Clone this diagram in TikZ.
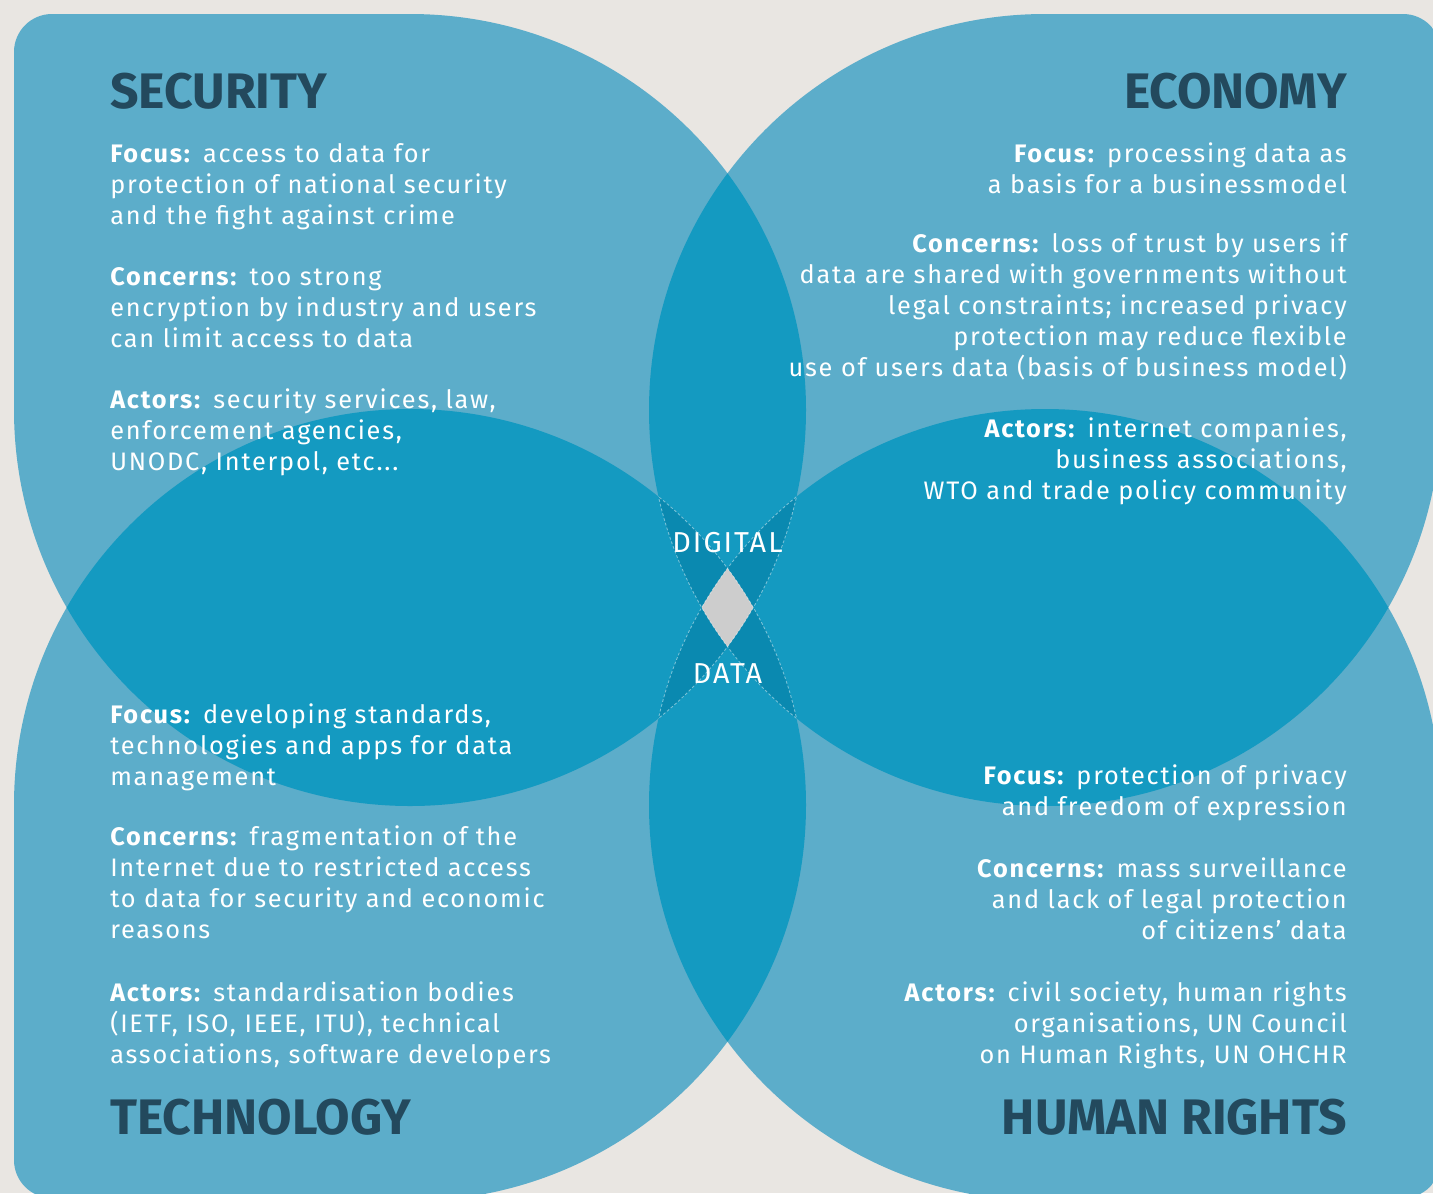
\documentclass[tikz,border=0pt]{standalone}
\usepackage{fontspec}
\setmainfont{Fira Sans}
\newfontfamily\spaced[LetterSpace=7]{Fira Sans}
\usepackage[svgnames]{xcolor}
\usepackage{tikz}

\definecolor{paper}{RGB}{233,230,226}
\definecolor{petal}{RGB}{92,173,202}
\definecolor{lenstwo}{RGB}{20,154,193}
\definecolor{lensthree}{RGB}{10,137,176}
\definecolor{hole}{RGB}{205,205,205}
\definecolor{headcol}{RGB}{35,73,93}

\tikzset{
  head/.style={inner sep=0pt, text=headcol, font=\fontsize{35.5}{40}\selectfont\bfseries},
  body/.style={inner sep=0pt, text=white, font=\spaced\fontsize{18}{22}\selectfont},
  core/.style={inner sep=0pt, text=white, font=\spaced\fontsize{20.5}{24}\selectfont},
  seam/.style={white, opacity=0.45, line width=0.6pt, dash pattern=on 2pt off 1.5pt}
}

\begin{document}
\begin{tikzpicture}[x=0.025cm, y=-0.025cm]
  \useasboundingbox (0,0) rectangle (1433,1193);
  \fill[paper] (0,0) rectangle (1433,1193);

  \coordinate (tl) at (410,410);
  \coordinate (tr) at (1045,410);
  \coordinate (bl) at (410,805);
  \coordinate (br) at (1045,805);

  \begin{scope}
    \clip[rounded corners=27pt] (14,14) rectangle (1441,1198);
    % the four petals
    \foreach \c/\qx/\qy in {tl/0/0, tr/1455/0, bl/0/1215, br/1455/1215}{
      \fill[petal] (\c) circle[radius=396];
      \fill[petal] (\c) rectangle (\qx,\qy);
    }
    % two petals overlapping
    \foreach \a/\b in {tl/tr, tl/bl, tr/br, bl/br, tl/br, tr/bl}{
      \begin{scope}
        \clip (\a) circle[radius=396];
        \fill[lenstwo] (\b) circle[radius=396];
      \end{scope}
    }
    % three petals overlapping
    \foreach \a/\b/\c in {tl/tr/bl, tl/tr/br, tl/bl/br, tr/bl/br}{
      \begin{scope}
        \clip (\a) circle[radius=396];
        \clip (\b) circle[radius=396];
        \fill[lensthree] (\c) circle[radius=396];
      \end{scope}
    }
    % all four: the hole in the middle
    \begin{scope}
      \clip (tl) circle[radius=396];
      \clip (tr) circle[radius=396];
      \clip (bl) circle[radius=396];
      \fill[hole] (br) circle[radius=396];
    \end{scope}
    % seams of the diagonal lenses
    \foreach \a/\b in {tl/br, br/tl, tr/bl, bl/tr}{
      \begin{scope}
        \clip (\a) circle[radius=396];
        \draw[seam] (\b) circle[radius=396];
      \end{scope}
    }
  \end{scope}

  \node[core] (digital) at (727.5,543) {DIGITAL};
  \node[core] (data) at (727.5,674) {DATA};

  % security (base = last line)
  \node[head, anchor=base west] (sec head) at (110,108) {SECURITY};
  \node[body, align=left, anchor=base west] (sec focus) at (110,224)
    {\textbf{Focus:} access to data for\\protection of national security\\and the fight against crime};
  \node[body, align=left, anchor=base west] (sec concerns) at (110,347)
    {\textbf{Concerns:} too strong\\encryption by industry and users\\can limit access to data};
  \node[body, align=left, anchor=base west] (sec actors) at (110,470)
    {\textbf{Actors:} security services, law,\\enforcement agencies,\\UNODC, Interpol, etc...};

  % economy
  \node[head, anchor=base east] (eco head) at (1347,108) {ECONOMY};
  \node[body, align=right, anchor=base east] (eco focus) at (1347,193)
    {\textbf{Focus:} processing data as\\a basis for a businessmodel};
  \node[body, align=right, anchor=base east] (eco concerns) at (1347,376)
    {\textbf{Concerns:} loss of trust by users if\\data are shared with governments without\\legal constraints; increased privacy\\protection may reduce flexible\\use of users data (basis of business model)};
  \node[body, align=right, anchor=base east] (eco actors) at (1347,499)
    {\textbf{Actors:} internet companies,\\business associations,\\WTO and trade policy community};

  % technology
  \node[body, align=left, anchor=base west] (tec focus) at (110,785)
    {\textbf{Focus:} developing standards,\\technologies and apps for data\\management};
  \node[body, align=left, anchor=base west] (tec concerns) at (110,938)
    {\textbf{Concerns:} fragmentation of the\\Internet due to restricted access\\to data for security and economic\\reasons};
  \node[body, align=left, anchor=base west] (tec actors) at (110,1063)
    {\textbf{Actors:} standardisation bodies\\(IETF, ISO, IEEE, ITU), technical\\associations, software developers};
  \node[head, anchor=base west] (tec head) at (110,1134) {TECHNOLOGY};

  % human rights
  \node[body, align=right, anchor=base east] (hum focus) at (1347,815)
    {\textbf{Focus:} protection of privacy\\and freedom of expression};
  \node[body, align=right, anchor=base east] (hum concerns) at (1347,939)
    {\textbf{Concerns:} mass surveillance\\and lack of legal protection\\of citizens’ data};
  \node[body, align=right, anchor=base east] (hum actors) at (1347,1063)
    {\textbf{Actors:} civil society, human rights\\organisations, UN Council\\on Human Rights, UN OHCHR};
  \node[head, anchor=base east] (hum head) at (1347,1134) {HUMAN RIGHTS};
\end{tikzpicture}
\end{document}
